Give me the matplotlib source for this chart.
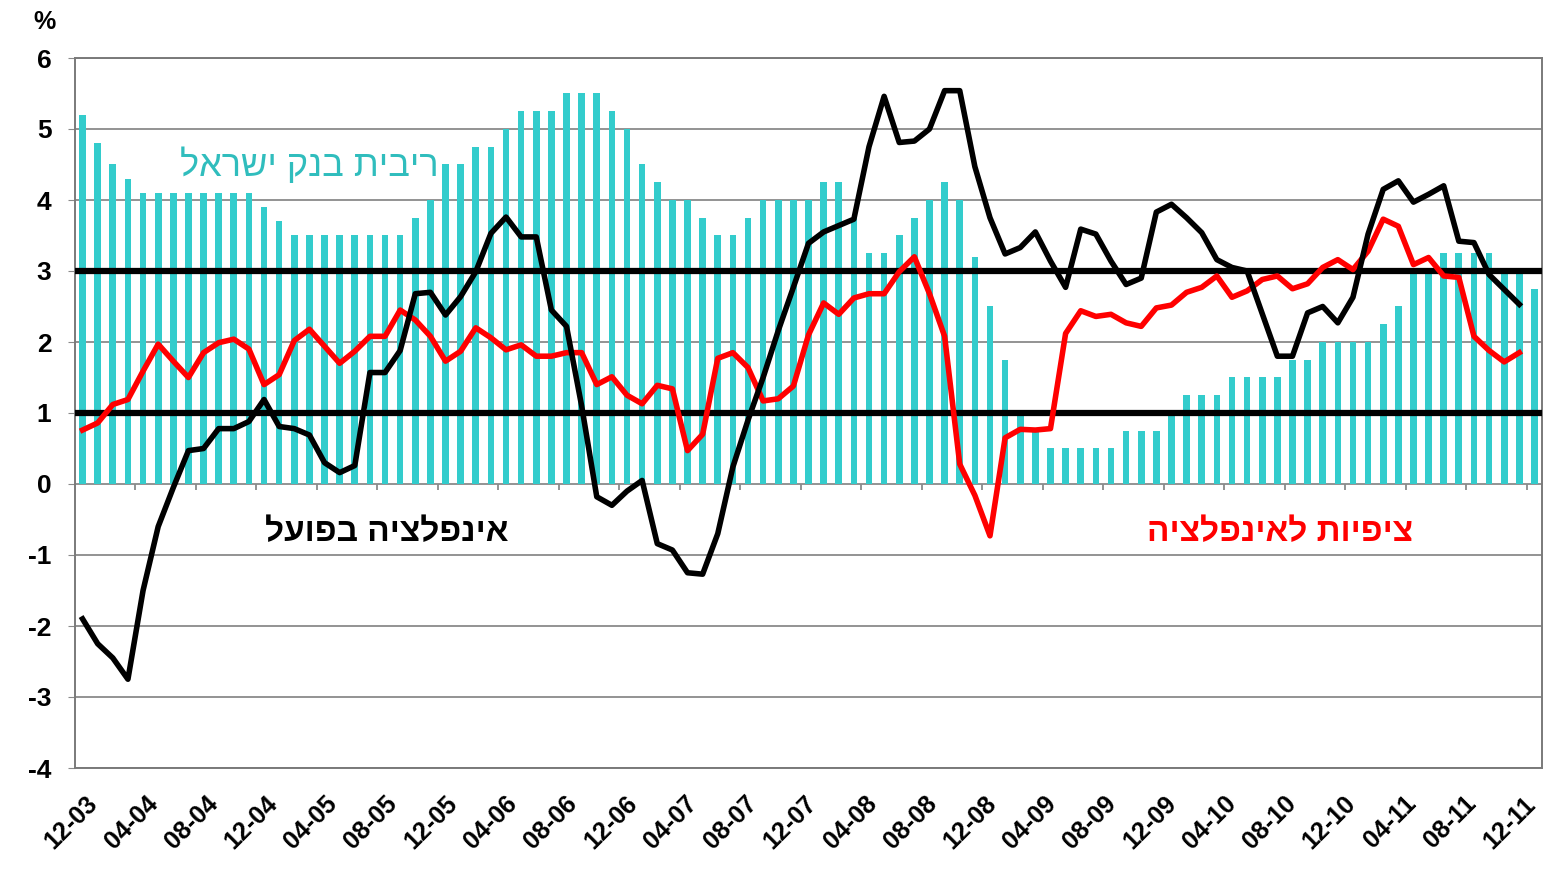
import numpy as np
import matplotlib
matplotlib.use('Agg')
import matplotlib.pyplot as plt
from matplotlib.transforms import ScaledTranslation

# ---- data (monthly, Dec-2003 .. Dec-2011) ----
rate = [5.2, 4.8, 4.5, 4.3, 4.1, 4.1, 4.1, 4.1, 4.1, 4.1, 4.1, 4.1,
        3.9, 3.7, 3.5, 3.5, 3.5, 3.5, 3.5, 3.5, 3.5, 3.5, 3.75, 4.0,
        4.5, 4.5, 4.75, 4.75, 5.0, 5.25, 5.25, 5.25, 5.5, 5.5, 5.5, 5.25,
        5.0, 4.5, 4.25, 4.0, 4.0, 3.75, 3.5, 3.5, 3.75, 4.0, 4.0, 4.0,
        4.0, 4.25, 4.25, 3.75, 3.25, 3.25, 3.5, 3.75, 4.0, 4.25, 4.0, 3.2,
        2.5, 1.75, 1.0, 0.75, 0.5, 0.5, 0.5, 0.5, 0.5, 0.75, 0.75, 0.75,
        1.0, 1.25, 1.25, 1.25, 1.5, 1.5, 1.5, 1.5, 1.75, 1.75, 2.0, 2.0,
        2.0, 2.0, 2.25, 2.5, 3.0, 3.0, 3.25, 3.25, 3.25, 3.25, 3.0, 3.0,
        2.75]

actual = [-1.9, -2.25, -2.45, -2.75, -1.5, -0.6, -0.05, 0.47, 0.5, 0.78, 0.78, 0.88,
          1.19, 0.81, 0.78, 0.69, 0.3, 0.16, 0.26, 1.57, 1.57, 1.88, 2.68, 2.7,
          2.38, 2.64, 2.99, 3.53, 3.76, 3.48, 3.48, 2.45, 2.22, 1.1, -0.18, -0.3,
          -0.1, 0.05, -0.84, -0.93, -1.25, -1.27, -0.7, 0.24, 0.9, 1.5, 2.16, 2.77,
          3.39, 3.55, 3.64, 3.73, 4.75, 5.46, 4.81, 4.83, 5.0, 5.54, 5.54, 4.47,
          3.75, 3.24, 3.33, 3.55, 3.14, 2.77, 3.59, 3.52, 3.14, 2.81, 2.9, 3.83,
          3.94, 3.75, 3.54, 3.16, 3.05, 3.0, 2.4, 1.8, 1.8, 2.41, 2.5, 2.27,
          2.63, 3.52, 4.15, 4.27, 3.97, 4.08, 4.2, 3.42, 3.4, 2.95, 2.74, 2.53]

expected = [0.76, 0.86, 1.12, 1.19, 1.59, 1.97, 1.73, 1.5, 1.85, 1.99, 2.04, 1.9,
            1.4, 1.54, 2.02, 2.18, 1.94, 1.7, 1.87, 2.08, 2.08, 2.45, 2.31, 2.08,
            1.73, 1.87, 2.2, 2.06, 1.89, 1.96, 1.8, 1.8, 1.85, 1.85, 1.4, 1.51,
            1.25, 1.13, 1.39, 1.34, 0.47, 0.7, 1.77, 1.85, 1.64, 1.17, 1.2, 1.38,
            2.1, 2.55, 2.39, 2.62, 2.68, 2.68, 2.99, 3.2, 2.68, 2.08, 0.28, -0.16,
            -0.73, 0.65, 0.77, 0.76, 0.78, 2.12, 2.44, 2.36, 2.39, 2.27, 2.22, 2.48,
            2.52, 2.7, 2.77, 2.93, 2.63, 2.72, 2.88, 2.93, 2.75, 2.82, 3.05, 3.16,
            3.02, 3.28, 3.73, 3.63, 3.09, 3.19, 2.93, 2.91, 2.08, 1.88, 1.72, 1.85]

tick_labels = ['12-03', '04-04', '08-04', '12-04', '04-05', '08-05', '12-05',
               '04-06', '08-06', '12-06', '04-07', '08-07', '12-07', '04-08',
               '08-08', '12-08', '04-09', '08-09', '12-09', '04-10', '08-10',
               '12-10', '04-11', '08-11', '12-11']
target_bands = [1, 3]

label_rate = 'ריבית בנק ישראל'
label_actual = 'אינפלציה בפועל'
label_expected = 'ציפיות לאינפלציה'


def rtl(s):
    # matplotlib has no bidi support: give the Hebrew text in visual order
    return s[::-1]


plt.rcParams['font.family'] = ['Liberation Sans', 'DejaVu Sans']
plt.rcParams['axes.unicode_minus'] = False

W, H = 1546, 869
fig = plt.figure(figsize=(W / 100, H / 100), dpi=100)
ax = fig.add_axes([75 / W, 1 - 768 / H, 1467 / W, 710 / H])

xb = np.arange(len(rate))
xl = np.arange(len(actual))

ax.bar(xb, rate, width=0.44, color='#33CCCC', zorder=2)
for b in target_bands:
    ax.axhline(b, color='black', lw=4.5, zorder=3)
ax.plot(xl, expected, color='#FF0000', lw=4.0, zorder=4, solid_joinstyle='round')
ax.plot(xl, actual, color='black', lw=4.0, zorder=5, solid_joinstyle='round')

ax.set_xlim(-0.5, len(rate) - 0.5)
ax.set_ylim(-4, 6)
ax.set_yticks(range(-4, 7))
ax.yaxis.grid(True, color='#8a8a8a', lw=1.3)
ax.set_axisbelow(True)

# category tick marks on the zero line (every 4 months, between categories)
ax.vlines(np.arange(-0.5, len(rate), 4)[1:], -0.09, 0, color='#8a8a8a', lw=1.3, zorder=1)

pos = np.arange(0, len(rate), 4)
ax.set_xticks(pos)
ax.set_xticklabels(tick_labels, rotation=45, ha='right', va='top',
                   rotation_mode='anchor', fontsize=18, fontweight='bold')
ax.tick_params(axis='x', length=0, pad=17)
n = len(tick_labels)
for k, t in enumerate(ax.get_xticklabels()):
    dx = (3 - 14 * k / (n - 1)) / 100.0
    t.set_transform(t.get_transform() + ScaledTranslation(dx, 0, fig.dpi_scale_trans))

ax.tick_params(axis='y', length=5, color='#8a8a8a', labelsize=19, pad=12)
for t in ax.get_yticklabels():
    t.set_fontweight('bold')

for s in ax.spines.values():
    s.set_color('#7a7a7a')
    s.set_linewidth(1.4)

ax.text(14.97, 4.48, rtl(label_rate), color='#30BDBD', fontsize=26,
        ha='center', va='center', zorder=6)
ax.text(20.1, -0.69, rtl(label_actual), color='black', fontsize=24,
        fontweight='bold', ha='center', va='center', zorder=6)
ax.text(79.2, -0.69, rtl(label_expected), color='#FF0000', fontsize=24,
        fontweight='bold', ha='center', va='center', zorder=6)

fig.text(45 / W, 1 - 22 / H, '%', fontsize=18, fontweight='bold', ha='center', va='center')

fig.savefig('out.png', dpi=100)
